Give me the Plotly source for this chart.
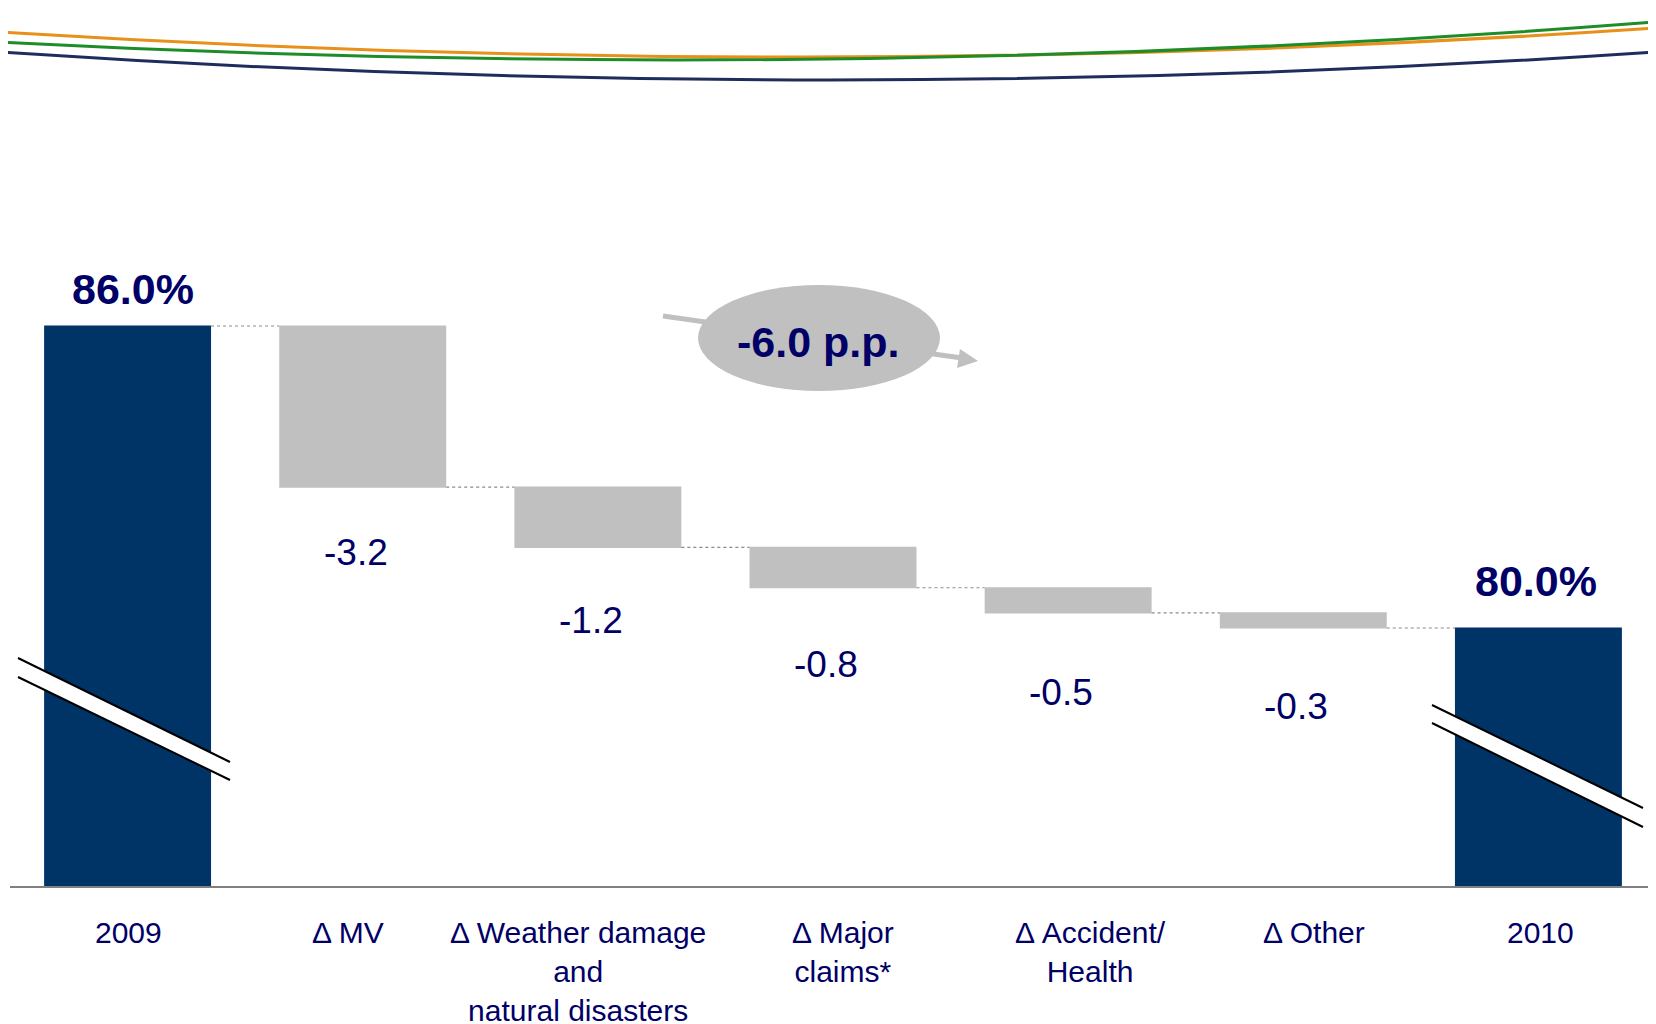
import plotly.graph_objects as go

# ---------------- data ----------------
categories = ["2009", "MV", "Weather", "Major", "Accident", "Other", "2010"]
category_labels = ["2009", "Δ MV", "Δ Weather damage<br>and<br>natural disasters",
                   "Δ Major<br>claims*", "Δ Accident/<br>Health", "Δ Other", "2010"]
measures = ["absolute", "relative", "relative", "relative", "relative", "relative", "total"]
values = [86.0, -3.2, -1.2, -0.8, -0.5, -0.3, 0]
total_change_label = "-6.0 p.p."

# ---------------- style ----------------
NAVY_BAR = "#003366"
GRAY_BAR = "#C0C0C0"
TEXT = "#000066"
FONT = "Arial, 'Liberation Sans', sans-serif"

W, H = 1656, 1024
OFF = 8  # page body margin in the browser
# plot area in screen pixels: left 10, right 1656, top 100, bottom 886
SL, SR, ST, SB = 10, 1656, 100, 886
PW, PH = SR - SL, SB - ST
ML, MT = SL - OFF, ST - OFF
MR, MB = W - (SR - OFF), H - (SB - OFF)

def pp(x, y):
    """screen pixel -> paper coordinates (decorations only)"""
    return (x - SL) / PW, (SB - y) / PH

# running levels
levels = []
cur = 0.0
for m, v in zip(measures, values):
    if m == "absolute":
        cur = v
        levels.append((v, v))
    elif m == "relative":
        prev = cur
        cur = round(cur + v, 6)
        levels.append((prev, cur))
    else:
        levels.append((cur, cur))

fig = go.Figure()
fig.add_trace(go.Waterfall(
    x=categories, y=values, measure=measures,
    width=0.71,
    decreasing=dict(marker=dict(color=GRAY_BAR, line=dict(width=0))),
    increasing=dict(marker=dict(color=GRAY_BAR, line=dict(width=0))),
    totals=dict(marker=dict(color=NAVY_BAR, line=dict(width=0))),
    connector=dict(line=dict(color="#8a8a8a", width=1.2, dash="dot")),
    hoverinfo="skip", showlegend=False,
))

annotations = []
# total labels
total_shift = {0: (5, 37), 6: (-2, 47)}
for i, (dx, dy) in total_shift.items():
    annotations.append(dict(x=i, y=levels[i][1], xref="x", yref="y",
                            text=f"<b>{levels[i][1]:.1f}%</b>", showarrow=False,
                            xshift=dx, yshift=dy, xanchor="center", yanchor="middle",
                            font=dict(family=FONT, size=43, color=TEXT)))
# delta labels
delta_shift = [65, 73, 77, 80, 79]
for k, i in enumerate(range(1, 6)):
    annotations.append(dict(x=i, y=levels[i][1], xref="x", yref="y",
                            text=f"{values[i]:.1f}", showarrow=False,
                            xshift=-7, yshift=-delta_shift[k],
                            xanchor="center", yanchor="middle",
                            font=dict(family=FONT, size=37, color=TEXT)))
# category labels
cat_xshift = [1, -15, -20, 10, 22, 11, 2]
for i, lab in enumerate(category_labels):
    annotations.append(dict(x=i, y=0, xref="x", yref="paper",
                            text=lab, showarrow=False, xshift=cat_xshift[i],
                            xanchor="center", yanchor="top", yshift=-28, align="center",
                            font=dict(family=FONT, size=30, color=TEXT)))
# ellipse text
ex, ey = pp(818, 342)
annotations.append(dict(x=ex, y=ey, xref="paper", yref="paper",
                        text=f"<b>{total_change_label}</b>", showarrow=False,
                        xanchor="center", yanchor="middle",
                        font=dict(family=FONT, size=43, color=TEXT)))

shapes = []
# top decorative curves
def qpath(p0, p1, p2):
    a, b, c = pp(*p0), pp(*p1), pp(*p2)
    return f"M {a[0]},{a[1]} Q {b[0]},{b[1]} {c[0]},{c[1]}"

for col, p0, p1, p2 in [
    ("#E8901A", (0, 32), (828, 84), (1656, 28)),
    ("#1E8C28", (0, 42), (828, 86), (1656, 22)),
    ("#1F2D5C", (0, 52), (828, 108), (1656, 52)),
]:
    shapes.append(dict(type="path", xref="paper", yref="paper", path=qpath(p0, p1, p2),
                       line=dict(color=col, width=3)))

# arrow line behind ellipse
a0, a1 = pp(663, 316), pp(962, 358)
shapes.append(dict(type="line", xref="paper", yref="paper", x0=a0[0], y0=a0[1],
                   x1=a1[0], y1=a1[1], line=dict(color=GRAY_BAR, width=5)))
# arrow head
t, b1, b2 = pp(978, 361), pp(960, 349), pp(957, 368)
shapes.append(dict(type="path", xref="paper", yref="paper",
                   path=f"M {t[0]},{t[1]} L {b1[0]},{b1[1]} L {b2[0]},{b2[1]} Z",
                   fillcolor=GRAY_BAR, line=dict(width=0)))
# ellipse
e0, e1 = pp(698, 391), pp(940, 285)
shapes.append(dict(type="circle", xref="paper", yref="paper", x0=e0[0], y0=e0[1],
                   x1=e1[0], y1=e1[1], fillcolor=GRAY_BAR, line=dict(width=0)))

# axis break marks
for (ul, ur, lr, ll) in [
    ((18, 658), (230, 762), (230, 780), (18, 677)),
    ((1432, 705), (1643, 808), (1643, 827), (1432, 723)),
]:
    P = [pp(*q) for q in (ul, ur, lr, ll)]
    shapes.append(dict(type="path", xref="paper", yref="paper",
                       path="M " + " L ".join(f"{x},{y}" for x, y in P) + " Z",
                       fillcolor="white", line=dict(width=0)))
    for s, e in ((P[0], P[1]), (P[3], P[2])):
        shapes.append(dict(type="line", xref="paper", yref="paper",
                           x0=s[0], y0=s[1], x1=e[0], y1=e[1],
                           line=dict(color="black", width=2)))

fig.update_layout(
    width=W, height=H,
    margin=dict(l=ML, r=MR, t=MT, b=MB, pad=0),
    paper_bgcolor="white", plot_bgcolor="white",
    xaxis=dict(type="category", range=[-0.5, 6.5], showticklabels=False,
               showgrid=False, zeroline=False, showline=True,
               linecolor="#808080", linewidth=2, ticks=""),
    yaxis=dict(range=[74.874, 90.49], visible=False, showgrid=False, zeroline=False),
    annotations=annotations, shapes=shapes, showlegend=False,
)

fig.write_html("out.html")
